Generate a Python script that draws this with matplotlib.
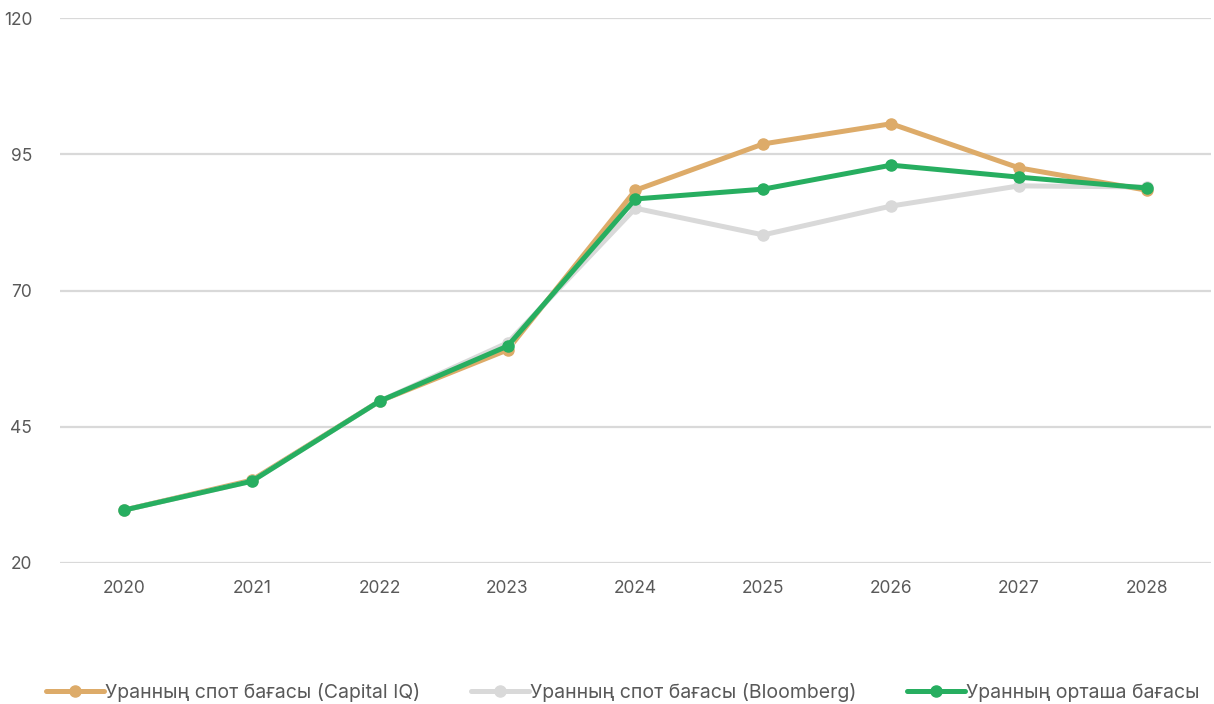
import matplotlib
matplotlib.use("Agg")
import matplotlib.pyplot as plt

plt.rcParams["font.family"] = ["Inter", "DejaVu Sans"]

years = ["2020", "2021", "2022", "2023", "2024", "2025", "2026", "2027", "2028"]
capital_iq = [29.7, 35.2, 49.7, 59.1, 88.4, 96.9, 100.6, 92.5, 88.4]
bloomberg = [29.7, 35.0, 49.7, 60.4, 85.1, 80.2, 85.5, 89.2, 89.0]
average = [29.7, 35.0, 49.7, 59.8, 86.8, 88.6, 93.0, 90.8, 88.8]

labels = [
    "Уранның спот бағасы (Capital IQ)",
    "Уранның спот бағасы (Bloomberg)",
    "Уранның орташа бағасы",
]
colors = ["#ddab69", "#d9d9d9", "#27ae60"]

fig = plt.figure(figsize=(12.14, 7.04), dpi=100)
ax = fig.add_axes([0.0494, 0.2003, 0.948, 0.7741])

x = range(len(years))
for vals, lab, col in zip([capital_iq, bloomberg, average], labels, colors):
    ax.plot(x, vals, color=col, lw=3.6, marker="o", markersize=8, label=lab,
            solid_capstyle="round")

ax.set_xlim(-0.5, len(years) - 0.5)
ax.set_ylim(20, 120)
ax.set_yticks([20, 45, 70, 95, 120])
ax.set_xticks(list(x))
ax.set_xticklabels(years)
ax.grid(axis="y", color="#d9d9d9", lw=1.6)
ax.set_axisbelow(True)
for s in ax.spines.values():
    s.set_visible(False)
ax.tick_params(length=0, labelsize=12.5, colors="#595959")
ax.tick_params(axis="y", pad=20)
ax.tick_params(axis="x", pad=12)

fig.legend(loc="lower center", bbox_to_anchor=(0.513, -0.022), ncol=3, frameon=False,
           fontsize=14, handlelength=3.0, handletextpad=0.05, columnspacing=2.6,
           labelcolor="#595959")

fig.savefig("out.png", dpi=100)
